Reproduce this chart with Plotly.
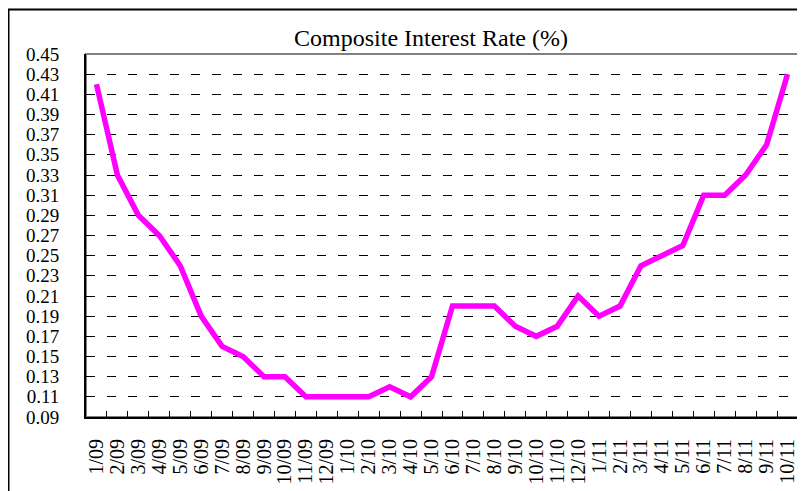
import plotly.graph_objects as go

months = ["1/09", "2/09", "3/09", "4/09", "5/09", "6/09", "7/09", "8/09", "9/09", "10/09", "11/09", "12/09",
          "1/10", "2/10", "3/10", "4/10", "5/10", "6/10", "7/10", "8/10", "9/10", "10/10", "11/10", "12/10",
          "1/11", "2/11", "3/11", "4/11", "5/11", "6/11", "7/11", "8/11", "9/11", "10/11"]
rates = [0.42, 0.33, 0.29, 0.27, 0.24, 0.19, 0.16, 0.15, 0.13, 0.13, 0.11, 0.11,
         0.11, 0.11, 0.12, 0.11, 0.13, 0.20, 0.20, 0.20, 0.18, 0.17, 0.18, 0.21,
         0.19, 0.20, 0.24, 0.25, 0.26, 0.31, 0.31, 0.33, 0.36, 0.43]
title_text = "Composite Interest Rate (%)"

font_family = "Liberation Serif, Times New Roman, serif"

fig = go.Figure()
fig.add_trace(go.Scatter(
    x=months, y=rates, mode="lines",
    line=dict(color="#FF00FF", width=5.5),
    hoverinfo="x+y", showlegend=False,
))

# page body has an 8px margin, so the figure starts at (8, 8) in the window
W, H = 797, 483
ML, MT = 78, 46
MR = W - 790
MB = H - 409
pw = W - ML - MR
ph = H - MT - MB

fig.update_layout(
    width=W, height=H,
    margin=dict(l=ML, r=MR, t=MT, b=MB, pad=0, autoexpand=False),
    paper_bgcolor="white", plot_bgcolor="white",
    font=dict(family=font_family, color="black", size=20),
    title=dict(text=title_text, x=423 / W, xanchor="center",
               y=1 - 30 / H, yanchor="middle", font=dict(size=24)),
    xaxis=dict(
        type="category", tickson="boundaries", ticks="inside", ticklen=6,
        tickcolor="black", tickwidth=1, tickangle=-90,
        tickmode="array", tickvals=months, ticktext=months,
        showline=True, linecolor="black", linewidth=2, showgrid=False,
        ticklabelstandoff=12, tickfont=dict(size=20), automargin=False,
        range=[-0.5, len(months) - 0.5],
    ),
    yaxis=dict(
        range=[0.09, 0.45], dtick=0.02, tick0=0.09, tickformat=".2f",
        showline=True, linecolor="black", linewidth=2, ticks="",
        showgrid=True, gridcolor="black", gridwidth=1, griddash="9px,12px",
        zeroline=False, ticklabelstandoff=21, tickfont=dict(size=19),
        automargin=False,
    ),
    shapes=[
        dict(type="rect", xref="paper", yref="paper", x0=0, y0=0, x1=1, y1=1,
             line=dict(color="#808080", width=2), layer="below"),
        dict(type="rect", xref="paper", yref="paper",
             x0=(0.5 - ML) / pw, y0=-0.5, x1=1.2, y1=1 + (MT - 1.5) / ph,
             line=dict(color="black", width=2), layer="below"),
    ],
)

fig.write_html("out.html")
